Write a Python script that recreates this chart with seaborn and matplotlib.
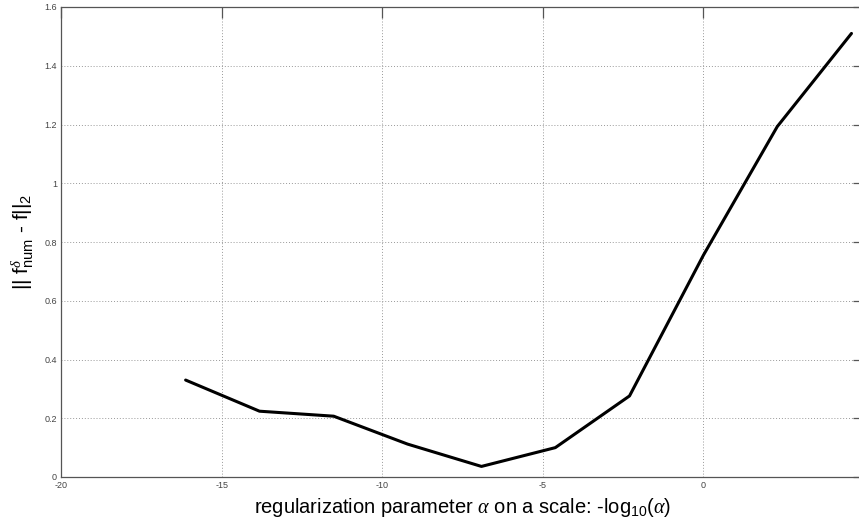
import matplotlib
matplotlib.use("Agg")
import matplotlib.pyplot as plt
import seaborn as sns
import pandas as pd

# data
x_vals = [-16.12, -13.82, -11.51, -9.21, -6.91, -4.61, -2.30, 0.0, 2.30, 4.61]
err_vals = [0.330, 0.224, 0.207, 0.112, 0.036, 0.100, 0.276, 0.755, 1.193, 1.510]
x_ticks = [-20, -15, -10, -5, 0]
x_tick_labels = ["-20", "-15", "-10", "-5", "0"]
y_ticks = [0, 0.2, 0.4, 0.6, 0.8, 1.0, 1.2, 1.4, 1.6]
y_tick_labels = ["0", "0.2", "0.4", "0.6", "0.8", "1", "1.2", "1.4", "1.6"]

sns.set_style("white")
plt.rcParams["font.family"] = ["Liberation Sans", "DejaVu Sans"]
plt.rcParams["mathtext.fontset"] = "custom"
plt.rcParams["mathtext.rm"] = "Liberation Sans"
plt.rcParams["mathtext.it"] = "Liberation Serif:italic"

df = pd.DataFrame({"x": x_vals, "err": err_vals})

W, H = 859, 519
fig = plt.figure(figsize=(W / 100, H / 100), dpi=100)
left, right, top, bottom = 61, 864, 7, 477
ax = fig.add_axes([left / W, 1 - bottom / H, (right - left) / W, (bottom - top) / H])

sns.lineplot(data=df, x="x", y="err", ax=ax, color="black", linewidth=2.2)

ax.set_xlim(-20, 5)
ax.set_ylim(0, 1.6)
ax.set_xticks(x_ticks)
ax.set_xticklabels(x_tick_labels)
ax.set_yticks(y_ticks)
ax.set_yticklabels(y_tick_labels)

ax.grid(True, linestyle=(0, (1, 2)), color="#999999", linewidth=0.7)
for s in ax.spines.values():
    s.set_color("#555555")
    s.set_linewidth(0.9)
ax.tick_params(direction="in", length=8, width=0.9, color="#555555",
               labelsize=6.5, labelcolor="#444444", top=True, right=True,
               pad=3)

ax.set_xlabel(r"regularization parameter $\alpha$ on a scale: -log$_{10}$($\alpha$)",
              fontsize=14.5, labelpad=4, color="black")
ax.set_ylabel(r"|| f$^{\delta}_{\mathrm{num}}$ - f||$_2$", fontsize=15, labelpad=6,
              color="black")

fig.savefig("out.png", dpi=100)
